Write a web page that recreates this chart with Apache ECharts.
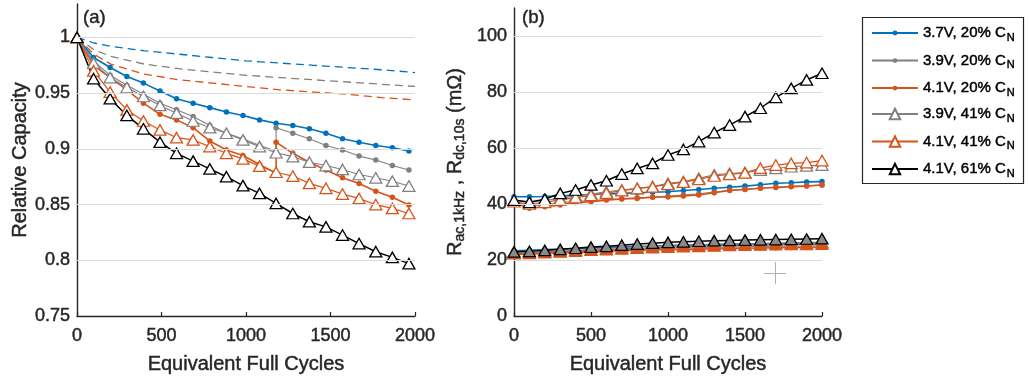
<!DOCTYPE html>
<html><head><meta charset="utf-8">
<script src="https://cdn.jsdelivr.net/npm/echarts/dist/echarts.min.js"></script>
<style>html,body{margin:0;padding:0;background:#fff}#c{width:1030px;height:390px}</style>
</head><body><div id="c"></div>
<script>
// ---------- data ----------
const EFC_L = [0,98,196,295,393,491,589,687,786,884,982,1080,1178,1277,1375,1473,1571,1669,1768,1866,1964];
const EFC_L_JUMP = [0,98,196,295,393,491,589,687,786,884,982,1080,1178,1178,1277,1375,1473,1571,1669,1768,1866,1964];
const EFC_FIT = [0,100,200,400,600,800,1000,1200,1400,1600,1800,2000];
const EFC_R = [0,100,200,300,400,500,600,700,800,900,1000,1100,1200,1300,1400,1500,1600,1700,1800,1900,2000];

// (a) relative capacity
const CAP_37_20 = [1.0,0.982,0.973,0.965,0.959,0.952,0.945,0.941,0.937,0.933,0.930,0.926,0.923,0.921,0.918,0.914,0.909,0.906,0.903,0.901,0.898];
const CAP_39_20 = [1.0,0.979,0.966,0.957,0.949,0.941,0.935,0.929,0.921,0.914,0.909,0.903,0.898,0.919,0.914,0.909,0.903,0.899,0.8935,0.890,0.885,0.881];
const CAP_41_20 = [1.0,0.975,0.964,0.953,0.941,0.931,0.926,0.919,0.907,0.899,0.894,0.886,0.878,0.906,0.896,0.888,0.881,0.874,0.869,0.862,0.8565,0.8496];
const CAP_39_41 = [1.0,0.977,0.964,0.955,0.947,0.939,0.932,0.925,0.919,0.914,0.908,0.902,0.8965,0.893,0.888,0.885,0.8815,0.877,0.874,0.871,0.8666];
const CAP_41_41 = [1.0,0.970,0.951,0.935,0.925,0.917,0.910,0.908,0.902,0.896,0.891,0.8845,0.879,0.8756,0.869,0.8646,0.8594,0.8555,0.850,0.8466,0.842];
const CAP_41_61 = [1.0,0.963,0.945,0.930,0.918,0.906,0.896,0.889,0.882,0.875,0.867,0.860,0.851,0.842,0.8346,0.830,0.8226,0.815,0.8077,0.8026,0.797];
const FIT_37 = [1.0,0.995,0.992,0.988,0.985,0.982,0.979,0.977,0.975,0.973,0.971,0.9685];
const FIT_39 = [1.0,0.989,0.983,0.976,0.972,0.969,0.966,0.964,0.962,0.960,0.958,0.956];
const FIT_41 = [1.0,0.985,0.976,0.967,0.962,0.959,0.956,0.953,0.951,0.949,0.946,0.944];

// (b) resistance, Rdc 10s (upper) and Rac 1kHz (lower)
const RDC_37_20 = [42.6,42.6,42.7,42.9,43.1,43.4,43.6,43.8,44.0,44.2,44.4,44.8,45.2,45.6,46.0,46.4,46.9,47.4,47.6,47.9,48.0];
const RDC_39_20 = [41.0,39.3,39.8,40.4,40.9,41.2,41.6,41.9,42.2,42.5,42.8,43.2,43.6,44.3,44.9,45.3,45.7,46.0,46.3,46.5,46.8];
const RDC_41_20 = [40.5,38.5,39.0,39.6,40.5,40.8,41.4,41.8,42.0,42.4,42.5,42.9,43.2,44.0,44.8,45.2,45.6,45.9,46.2,46.4,46.8];
const RDC_39_41 = [41.4,40.8,41.3,42.0,42.9,43.6,44.4,45.0,45.6,46.2,47.4,48.0,49.2,50.4,50.9,51.2,52.1,52.7,53.3,53.6,53.9];
const RDC_41_41 = [40.8,40.0,40.6,41.5,42.3,43.1,43.9,44.8,45.5,46.1,47.0,47.8,48.8,50.0,50.6,51.1,52.8,53.9,54.5,54.8,55.5];
const RDC_41_61 = [41.4,40.6,41.7,43.8,45.0,46.8,48.3,50.7,52.7,54.5,57.5,59.5,62.3,65.5,68.2,71.2,74.2,78.1,81.3,84.3,86.7];
const RAC_37_20 = [23.3,23.5,23.7,23.9,24.1,24.3,24.5,24.7,24.9,25.0,25.2,25.3,25.4,25.5,25.6,25.7,25.8,25.9,26.0,26.1,26.2];
const RAC_39_20 = [22.2,22.3,22.5,22.8,23.0,23.3,23.5,23.7,23.9,24.1,24.2,24.3,24.4,24.5,24.6,24.7,24.8,24.9,25.0,25.0,25.1];
const RAC_41_20 = [22.0,22.1,22.3,22.5,22.7,22.9,23.1,23.3,23.4,23.6,23.7,23.8,23.9,24.0,24.1,24.2,24.3,24.4,24.5,24.5,24.6];
const RAC_39_41 = [22.5,22.6,22.9,23.2,23.5,23.8,24.1,24.4,24.7,24.9,25.1,25.3,25.4,25.6,25.7,25.8,25.9,26.0,26.1,26.2,26.3];
const RAC_41_41 = [22.3,22.4,22.6,22.9,23.2,23.5,23.7,24.0,24.2,24.4,24.6,24.8,24.9,25.0,25.2,25.3,25.4,25.5,25.6,25.6,25.7];
const RAC_41_61 = [22.9,23.1,23.4,23.8,24.2,24.6,24.9,25.3,25.7,26.0,26.3,26.5,26.7,26.9,27.0,27.1,27.2,27.3,27.4,27.5,27.6];

const NAMES = ['3.7V, 20%','3.9V, 20%','4.1V, 20%','3.9V, 41%','4.1V, 41%','4.1V, 61%'];
const CAP_GRID = [0.8,0.85,0.9,0.95,1.0];
const R_GRID = [20,40,60,80,100];

// ---------- styling ----------
const FONT = "'Liberation Sans', Arial, Helvetica, sans-serif";
const TXT = '#262626';
const BW = 0.45; // slight text stroke to mimic the heavier rendering
const BLUE = '#0072BD', ORANGE = '#D95319', GRAY = '#808080', BLACK = '#000000';

const pair = (xs, ys) => ys.map((y, i) => [xs[i], y]);
const ts = (size, color) => ({fontSize:size, color:color||TXT, fontFamily:FONT, textBorderColor:color||TXT, textBorderWidth:BW});

function dotSeries(name, g, xs, ys, color, lw) {
  return { type:'line', name, xAxisIndex:g, yAxisIndex:g, data:pair(xs, ys),
    symbol:'circle', symbolSize:5.5, showSymbol:true, z:3,
    itemStyle:{color}, lineStyle:{color, width:lw} };
}
function triSeries(name, g, xs, ys, color, lw, fill, z) {
  return { type:'line', name, xAxisIndex:g, yAxisIndex:g, data:pair(xs, ys),
    symbol:'triangle', symbolSize:[12,10.5], showSymbol:true, z:z||4,
    itemStyle:{color:fill||'#ffffff', borderColor:color, borderWidth:1.3},
    lineStyle:{color, width:lw} };
}
function fitSeries(g, xs, ys, color) {
  return { type:'line', name:'fit', xAxisIndex:g, yAxisIndex:g, data:pair(xs, ys),
    symbol:'none', z:2, lineStyle:{color, width:1.3, type:[8,5]} };
}
function gridSeries(g, vals) {
  return { type:'line', name:'grid', xAxisIndex:g, yAxisIndex:g, data:[], z:1, silent:true,
    markLine:{ silent:true, symbol:'none', label:{show:false}, animation:false,
      lineStyle:{color:'#dcdcdc', width:1.2, type:'solid'},
      data: vals.map(v => ({yAxis:v})) } };
}

function xAxis(g) {
  return { type:'value', gridIndex:g, min:0, max:2000, interval:500,
    axisLine:{show:true, onZero:false, lineStyle:{color:TXT, width:1.4}},
    axisTick:{show:true, inside:true, length:4, lineStyle:{color:TXT, width:1.2}},
    splitLine:{show:false},
    axisLabel:Object.assign(ts(18), {margin:11, formatter:v => String(v)}),
    name:'Equivalent Full Cycles', nameLocation:'middle', nameGap:38,
    nameTextStyle:ts(20) };
}

const legendRich = {
  m:Object.assign(ts(15, '#000'), {lineHeight:20}),
  s:Object.assign(ts(11, '#000'), {lineHeight:11, padding:[9,0,0,1]})
};
function legend(data, top, ih) {
  return { show:true, orient:'vertical', left:862, top, data, itemWidth:46, itemHeight:ih,
    itemGap:7.3, padding:[0,0,0,9], selectedMode:false, icon:'inherit',
    formatter: n => '{m|' + n + ' C}{s|N}',
    textStyle:{rich:legendRich, fontFamily:FONT} };
}

const option = {
  animation:false,
  backgroundColor:'#ffffff',
  textStyle:{fontFamily:FONT},
  title:[
    {text:'(a)', left:78, top:3, textStyle:Object.assign(ts(18.5), {fontWeight:'normal'})},
    {text:'(b)', left:517, top:3, textStyle:Object.assign(ts(18.5), {fontWeight:'normal'})}
  ],
  grid:[
    {left:77, top:4, width:338, height:312},
    {left:514, top:8, width:308, height:308}
  ],
  xAxis:[xAxis(0), xAxis(1)],
  yAxis:[
    { type:'value', gridIndex:0, min:0.75, max:1.03, interval:0.05,
      axisLine:{show:true, onZero:false, lineStyle:{color:TXT, width:1.4}},
      axisTick:{show:false}, splitLine:{show:false},
      axisLabel:Object.assign(ts(18), {margin:7, showMaxLabel:false}),
      name:'Relative Capacity', nameLocation:'middle', nameGap:46, nameRotate:90,
      nameTextStyle:ts(20) },
    { type:'value', gridIndex:1, min:0, max:110, interval:20,
      axisLine:{show:true, onZero:false, lineStyle:{color:TXT, width:1.4}},
      axisTick:{show:false}, splitLine:{show:false},
      axisLabel:Object.assign(ts(18), {margin:7, showMaxLabel:false}),
      name:'{m|R}{s|ac,1kHz}{m| , R}{s|dc,10s}{m| (mΩ)}', nameLocation:'middle', nameGap:47, nameRotate:90,
      nameTextStyle:{color:TXT, fontFamily:FONT, rich:{
        m:Object.assign(ts(20), {lineHeight:24}),
        s:Object.assign(ts(14), {lineHeight:14, padding:[10,0,0,0]})}} }
  ],
  legend:[
    legend(NAMES.slice(0,3), 23, 6),
    legend(NAMES.slice(3,6), 104, 13)
  ],
  graphic:[
    {type:'rect', shape:{x:862.5, y:17.5, width:161, height:166}, style:{fill:null, stroke:TXT, lineWidth:1.2}, z:0, silent:true},
    {type:'line', shape:{x1:764, y1:273.5, x2:786, y2:273.5}, style:{stroke:'#b0b0b0', lineWidth:1}, silent:true},
    {type:'line', shape:{x1:775.5, y1:262, x2:775.5, y2:284}, style:{stroke:'#b0b0b0', lineWidth:1}, silent:true}
  ],
  series:[
    gridSeries(0, CAP_GRID),
    gridSeries(1, R_GRID),
    // (a)
    fitSeries(0, EFC_FIT, FIT_37, BLUE),
    fitSeries(0, EFC_FIT, FIT_39, GRAY),
    fitSeries(0, EFC_FIT, FIT_41, ORANGE),
    dotSeries(NAMES[0], 0, EFC_L, CAP_37_20, BLUE, 1.6),
    dotSeries(NAMES[1], 0, EFC_L_JUMP, CAP_39_20, GRAY, 1.1),
    dotSeries(NAMES[2], 0, EFC_L_JUMP, CAP_41_20, ORANGE, 1.6),
    triSeries(NAMES[3], 0, EFC_L, CAP_39_41, GRAY, 1.1),
    triSeries(NAMES[4], 0, EFC_L, CAP_41_41, ORANGE, 1.2),
    triSeries(NAMES[5], 0, EFC_L, CAP_41_61, BLACK, 1.5),
    // (b) upper
    dotSeries(NAMES[0], 1, EFC_R, RDC_37_20, BLUE, 1.6),
    dotSeries(NAMES[1], 1, EFC_R, RDC_39_20, GRAY, 1.1),
    dotSeries(NAMES[2], 1, EFC_R, RDC_41_20, ORANGE, 1.6),
    triSeries(NAMES[3], 1, EFC_R, RDC_39_41, GRAY, 1.1),
    triSeries(NAMES[4], 1, EFC_R, RDC_41_41, ORANGE, 1.2),
    triSeries(NAMES[5], 1, EFC_R, RDC_41_61, BLACK, 1.5),
    // (b) lower
    dotSeries(NAMES[0], 1, EFC_R, RAC_37_20, BLUE, 1.6),
    dotSeries(NAMES[1], 1, EFC_R, RAC_39_20, GRAY, 1.1),
    dotSeries(NAMES[2], 1, EFC_R, RAC_41_20, ORANGE, 1.6),
    triSeries(NAMES[3], 1, EFC_R, RAC_39_41, GRAY, 1.1, GRAY),
    triSeries(NAMES[4], 1, EFC_R, RAC_41_41, ORANGE, 1.2, ORANGE),
    triSeries(NAMES[5], 1, EFC_R, RAC_41_61, BLACK, 1.5, '#8a8a8a', 5)
  ]
};

const chart = echarts.init(document.getElementById('c'), null, {renderer:'canvas'});
chart.setOption(option);
</script>
</body></html>
